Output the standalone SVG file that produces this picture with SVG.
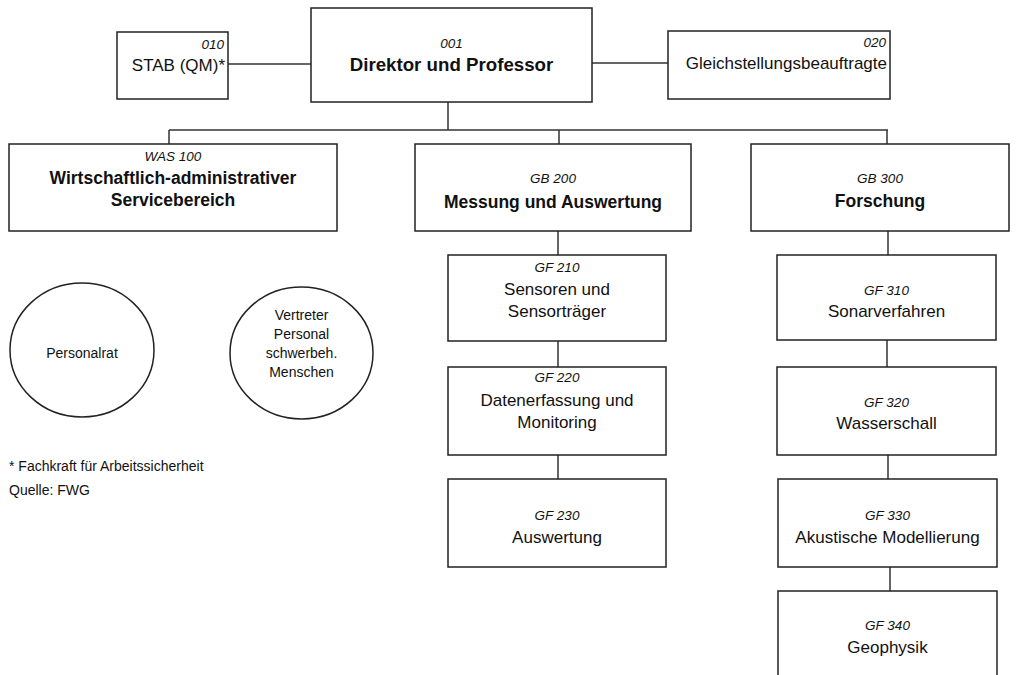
<svg xmlns="http://www.w3.org/2000/svg" width="1019" height="675" viewBox="0 0 1019 675">
<style>
.box, .oval { fill: #fff; stroke: #222; stroke-width: 1.5; }
.c line { stroke: #333; stroke-width: 1.5; }
text { font-family: "Liberation Sans", Arial, sans-serif; fill: #111; }
.n { font-style: italic; font-size: 13.5px; }
.t { font-size: 17px; }
.b { font-size: 17.5px; font-weight: bold; }
.d { font-size: 18.7px; font-weight: bold; }
.s { font-size: 14px; }
.m { text-anchor: middle; }
.r { text-anchor: end; }
</style>
<rect width="1019" height="675" style="fill:#fff;stroke:none"/>
<g class="c" id="connectors">
<line x1="228" y1="64" x2="311" y2="64"/>
<line x1="592" y1="63" x2="668" y2="63"/>
<line x1="448" y1="102" x2="448" y2="130"/>
<line x1="169" y1="130" x2="888" y2="130"/>
<line x1="169" y1="130" x2="169" y2="144"/>
<line x1="559" y1="130" x2="559" y2="144"/>
<line x1="887" y1="130" x2="887" y2="144"/>
<line x1="558" y1="231" x2="558" y2="255"/>
<line x1="558" y1="341" x2="558" y2="367"/>
<line x1="558" y1="455" x2="558" y2="479"/>
<line x1="888" y1="231" x2="888" y2="255"/>
<line x1="887" y1="340" x2="887" y2="367"/>
<line x1="888" y1="455" x2="888" y2="479"/>
<line x1="890" y1="567" x2="890" y2="591"/>
</g>
<g id="n010">
<rect class="box" x="117" y="32" width="111" height="67"/>
<text class="n r" x="224" y="49">010</text>
<text class="t r" x="225" y="71">STAB (QM)*</text>
</g>
<g id="n001">
<rect class="box" x="311" y="8" width="281" height="94"/>
<text class="n m" x="451.5" y="48">001</text>
<text class="d m" x="451.5" y="71">Direktor und Professor</text>
</g>
<g id="n020">
<rect class="box" x="668" y="31" width="222" height="68"/>
<text class="n r" x="886" y="47">020</text>
<text class="t r" x="887" y="69">Gleichstellungsbeauftragte</text>
</g>
<g id="n100">
<rect class="box" x="9" y="144" width="328" height="87"/>
<text class="n m" x="173" y="161">WAS 100</text>
<text class="b m" x="173" y="184">Wirtschaftlich-administrativer</text>
<text class="b m" x="173" y="206">Servicebereich</text>
</g>
<g id="n200">
<rect class="box" x="415" y="144" width="276" height="87"/>
<text class="n m" x="553" y="183">GB 200</text>
<text class="b m" x="553" y="208">Messung und Auswertung</text>
</g>
<g id="n300">
<rect class="box" x="751" y="144" width="258" height="87"/>
<text class="n m" x="880" y="183">GB 300</text>
<text class="b m" x="880" y="207">Forschung</text>
</g>
<g id="n210">
<rect class="box" x="448" y="255" width="218" height="86"/>
<text class="n m" x="557" y="272">GF 210</text>
<text class="t m" x="557" y="295">Sensoren und</text>
<text class="t m" x="557" y="317">Sensorträger</text>
</g>
<g id="n220">
<rect class="box" x="448" y="367" width="218" height="88"/>
<text class="n m" x="557" y="382">GF 220</text>
<text class="t m" x="557" y="406">Datenerfassung und</text>
<text class="t m" x="557" y="428">Monitoring</text>
</g>
<g id="n230">
<rect class="box" x="448" y="479" width="218" height="88"/>
<text class="n m" x="557" y="520">GF 230</text>
<text class="t m" x="557" y="543">Auswertung</text>
</g>
<g id="n310">
<rect class="box" x="777" y="255" width="219" height="85"/>
<text class="n m" x="886.5" y="295">GF 310</text>
<text class="t m" x="886.5" y="317">Sonarverfahren</text>
</g>
<g id="n320">
<rect class="box" x="777" y="367" width="219" height="88"/>
<text class="n m" x="886.5" y="407">GF 320</text>
<text class="t m" x="886.5" y="429">Wasserschall</text>
</g>
<g id="n330">
<rect class="box" x="778" y="479" width="219" height="88"/>
<text class="n m" x="887.5" y="520">GF 330</text>
<text class="t m" x="887.5" y="543">Akustische Modellierung</text>
</g>
<g id="n340">
<rect class="box" x="778" y="591" width="219" height="95"/>
<text class="n m" x="887.5" y="630">GF 340</text>
<text class="t m" x="887.5" y="653">Geophysik</text>
</g>
<g id="personalrat">
<ellipse class="oval" cx="82" cy="350" rx="72" ry="67"/>
<text class="s m" x="82" y="358">Personalrat</text>
</g>
<g id="vertreter">
<ellipse class="oval" cx="301.5" cy="353" rx="71.5" ry="66"/>
<text class="s m" x="301.5" y="320">Vertreter</text>
<text class="s m" x="301.5" y="339">Personal</text>
<text class="s m" x="301.5" y="358">schwerbeh.</text>
<text class="s m" x="301.5" y="377">Menschen</text>
</g>
<g id="notes">
<text class="s" x="9" y="471">* Fachkraft für Arbeitssicherheit</text>
<text class="s" x="9" y="495">Quelle: FWG</text>
</g>
</svg>
